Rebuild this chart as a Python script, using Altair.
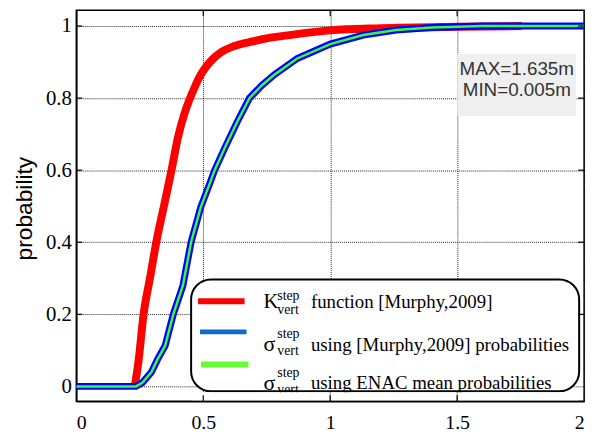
import altair as alt
import pandas as pd

# ---- data ----
red_x = [0.23, 0.245, 0.265, 0.29, 0.315, 0.345, 0.375, 0.40, 0.425, 0.448, 0.465, 0.48, 0.50,
         0.53, 0.57, 0.62, 0.686, 0.76, 0.84, 1.0, 1.2, 1.5, 1.755]
red_y = [0.0, 0.07, 0.2, 0.3, 0.4, 0.5, 0.6, 0.69, 0.755, 0.8, 0.828, 0.852, 0.876,
         0.903, 0.927, 0.944, 0.956, 0.967, 0.975, 0.988, 0.994, 0.998, 1.0]

sig_x = [0.0, 0.235, 0.26, 0.296, 0.32, 0.35, 0.382, 0.42, 0.452, 0.49, 0.53, 0.545,
         0.585, 0.635, 0.682, 0.73, 0.78, 0.87, 1.0, 1.13, 1.26, 1.4, 1.6, 2.0]
sig_y = [0.0, 0.0, 0.01, 0.04, 0.075, 0.113, 0.2, 0.28, 0.40, 0.497, 0.571, 0.60,
         0.662, 0.736, 0.8, 0.835, 0.865, 0.91, 0.95, 0.975, 0.989, 0.996, 1.0, 1.0]

x_ticks = [0, 0.5, 1, 1.5, 2]
y_ticks = [0, 0.2, 0.4, 0.6, 0.8, 1]
x_inner_ticks = [0.5, 1, 1.5]
y_inner_ticks = [0.2, 0.4, 0.6, 0.8, 1]
grid_x_clip = [1, 1.5]

annot_lines = ["MAX=1.635m", "MIN=0.005m"]
legend_texts = ["function [Murphy,2009]",
                "using [Murphy,2009] probabilities",
                "using ENAC mean probabilities"]

df_red = pd.DataFrame({"x": red_x, "y": red_y, "o": list(range(len(red_x)))})
df_sig = pd.DataFrame({"x": sig_x, "y": sig_y, "o": list(range(len(sig_x)))})
one = pd.DataFrame({"a": [0]})

xs = alt.Scale(domain=[0, 2], nice=False, zero=False)
ys = alt.Scale(domain=[-0.041, 1.044], nice=False, zero=False)

xax = alt.Axis(values=x_ticks, format="~g", title=None, ticks=False, labelPadding=12,
               labelFont="Liberation Serif", labelFontSize=20, labelColor="black",
               domainColor="black", domainWidth=1.5,
               grid=True, gridColor="black", gridDash=[1, 1], gridWidth=1, gridOpacity=0.85)
yax = alt.Axis(values=y_ticks, format="~g", title="probability", ticks=False, labelPadding=5,
               labelFont="Liberation Serif", labelFontSize=21, labelColor="black",
               domainColor="black", domainWidth=1.5,
               titleFont="Liberation Sans", titleFontSize=23, titleFontWeight="normal",
               titleColor="black", titleAngle=-90, titleX=-52, titleY=200,
               titleAlign="center", titleBaseline="middle",
               grid=True, gridColor="black", gridDash=[1, 1], gridWidth=1, gridOpacity=0.85)

red = alt.Chart(df_red).mark_line(color="#ff0000", strokeWidth=8, clip=True,
                                  interpolate="monotone").encode(
    x=alt.X("x:Q", scale=xs, axis=xax), y=alt.Y("y:Q", scale=ys, axis=yax), order="o:Q")
blue = alt.Chart(df_sig).mark_line(color="#0000ff", strokeWidth=7, clip=True).encode(
    x=alt.X("x:Q", scale=xs), y=alt.Y("y:Q", scale=ys), order="o:Q")
green = alt.Chart(df_sig).mark_line(color="#33ff33", strokeWidth=2.5, clip=True).encode(
    x=alt.X("x:Q", scale=xs), y=alt.Y("y:Q", scale=ys), order="o:Q")


def txt(s, x, y, size, font="Liberation Serif", align="left", color="black"):
    return alt.Chart(one).mark_text(text=s, font=font, fontSize=size, align=align,
                                    baseline="alphabetic", color=color).encode(
        x=alt.value(x), y=alt.value(y))


def hline(x1, x2, y, color, w):
    return alt.Chart(one).mark_rule(color=color, strokeWidth=w).encode(
        x=alt.value(x1), x2=alt.value(x2), y=alt.value(y))


# annotation box
annot_box = alt.Chart(one).mark_rect(fill="#efefef").encode(
    x=alt.value(385), x2=alt.value(505), y=alt.value(44), y2=alt.value(107))
annot1 = txt(annot_lines[0], 445, 65, 19, font="Liberation Sans", align="center", color="#333333")
annot2 = txt(annot_lines[1], 445, 87, 19, font="Liberation Sans", align="center", color="#333333")

# legend box
leg_box = alt.Chart(one).mark_rect(fill="white", stroke="black", strokeWidth=2, cornerRadius=20).encode(
    x=alt.value(116), x2=alt.value(508), y=alt.value(272), y2=alt.value(385))

leg = [
    hline(123, 170, 294, "#ff0000", 6),
    hline(125, 172, 325, "#0b6bc8", 5),
    hline(126, 174, 358, "#66ff33", 6),
    txt("K", 189, 301, 21),
    txt("step", 203, 293, 14),
    txt("vert", 203, 307, 14),
    txt(legend_texts[0], 237, 301, 19),
    txt("σ", 189, 344, 22),
    txt("step", 203, 331, 14),
    txt("vert", 203, 348, 14),
    txt(legend_texts[1], 237, 344, 19),
    txt("σ", 189, 384, 22),
    txt("step", 203, 371, 14),
    txt("vert", 203, 388, 14),
    txt(legend_texts[2], 237, 383, 19),
]

# clip strip under legend box bottom, then restore the grid segments there
clip_rect = alt.Chart(one).mark_rect(fill="white").encode(
    x=alt.value(117), x2=alt.value(507), y=alt.value(386), y2=alt.value(394))
grid_fix = alt.Chart(pd.DataFrame({"x": grid_x_clip})).mark_rule(
    color="black", strokeDash=[1, 1], strokeWidth=1, opacity=0.85).encode(
    x=alt.X("x:Q", scale=xs), y=alt.value(386), y2=alt.value(395))

# inward tick marks on all four sides
dfx = pd.DataFrame({"x": x_inner_ticks})
dfy = pd.DataFrame({"y": y_inner_ticks})
tick_top = alt.Chart(dfx).mark_rule(color="black", strokeWidth=1.2).encode(
    x=alt.X("x:Q", scale=xs), y=alt.value(0), y2=alt.value(6))
tick_bot = alt.Chart(dfx).mark_rule(color="black", strokeWidth=1.2).encode(
    x=alt.X("x:Q", scale=xs), y=alt.value(389), y2=alt.value(395))
tick_left = alt.Chart(dfy).mark_rule(color="black", strokeWidth=1.2).encode(
    y=alt.Y("y:Q", scale=ys), x=alt.value(0), x2=alt.value(6))
tick_right = alt.Chart(dfy).mark_rule(color="black", strokeWidth=1.2).encode(
    y=alt.Y("y:Q", scale=ys), x=alt.value(507), x2=alt.value(513))

chart = alt.layer(red, blue, green, annot_box, annot1, annot2, leg_box, *leg, clip_rect, grid_fix,
                  tick_top, tick_bot, tick_left, tick_right).properties(
    width=513, height=395,
    autosize=alt.AutoSizeParams(type="none"),
    padding={"left": 69, "top": 0, "right": 9, "bottom": 36},
).configure_view(stroke="black", strokeWidth=1.5)

chart.save("out.html", embed_options={"renderer": "svg", "actions": False})
